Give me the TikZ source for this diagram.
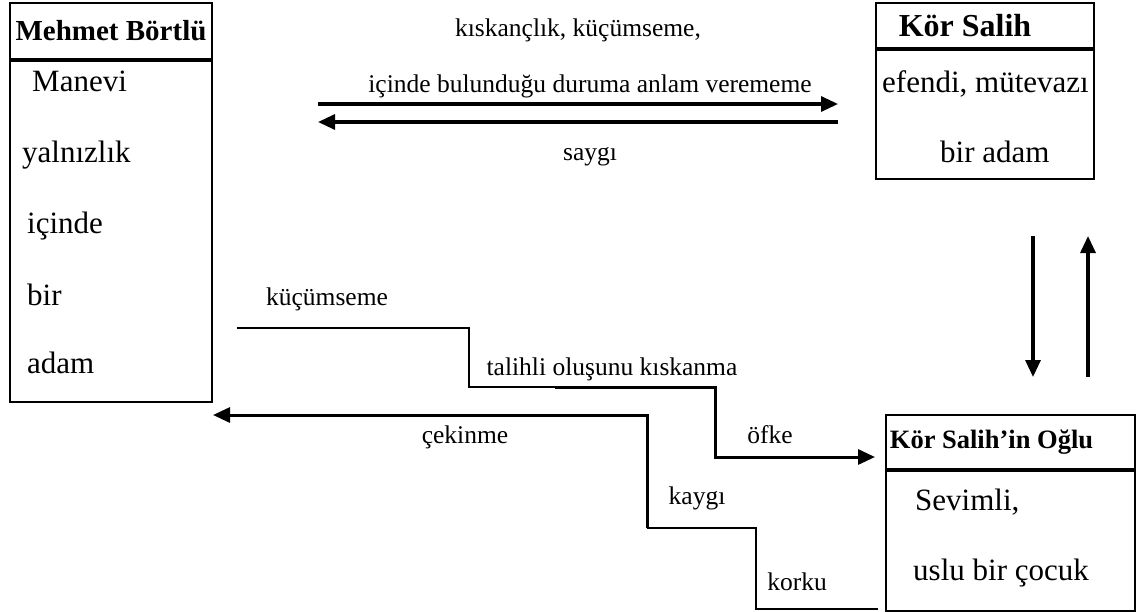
\documentclass[tikz,border=0pt]{standalone}
\usepackage{fontspec}
\setmainfont{Liberation Serif}
\usetikzlibrary{arrows.meta, positioning}
\newcommand{\bxfont}{\fontsize{31}{36}\selectfont}
\newcommand{\lblfont}{\fontsize{25.5}{30}\selectfont}
\tikzset{
    boxpart/.style={draw, line width=1.9pt, inner sep=0pt},
    boxhead/.style={boxpart, font=\bfseries\fontsize{29}{34}\selectfont},
    boxtext/.style={inner sep=0pt, anchor=base west, font=\bxfont},
    lbl/.style={inner sep=0pt, anchor=base, font=\lblfont},
    relarrow/.style={line width=3.2pt, -{Triangle[length=17pt, width=15pt]}},
    steparrow/.style={line width=3pt, -{Triangle[length=17pt, width=15pt]}},
    stepline/.style={line width=1.8pt},
}

\begin{document}
\begin{tikzpicture}[x=1pt, y=-1pt]
\useasboundingbox (0,0) rectangle (1137,611);

% --- Mehmet Bortlu box ---
\node[boxhead, minimum width=202pt, minimum height=56pt] (mb-h) at (111,31) {Mehmet Börtlü};
\node[boxpart, minimum width=202pt, minimum height=341pt, below=0pt of mb-h] (mb-b) {};
\node[boxtext] (mb-1) at (32,91) {Manevi};
\node[boxtext] (mb-2) at (22,162) {yalnızlık};
\node[boxtext] (mb-3) at (27,233) {içinde};
\node[boxtext] (mb-4) at (27,305) {bir};
\node[boxtext] (mb-5) at (27,373) {adam};

% --- Kor Salih box ---
\node[boxhead, font=\bfseries\fontsize{32}{36}\selectfont,
      minimum width=218pt, minimum height=45pt] (ks-h) at (985,25.5) {\hspace*{-40pt}Kör Salih};
\node[boxpart, minimum width=218pt, minimum height=129pt, below=0pt of ks-h] (ks-b) {};
\node[boxtext] (ks-1) at (882,92) {efendi, mütevazı};
\node[boxtext] (ks-2) at (940,162) {bir adam};

% --- Kor Salih'in Oglu box ---
\node[boxhead, font=\bfseries\fontsize{26.5}{30}\selectfont,
      minimum width=249pt, minimum height=54pt] (og-h) at (1010.5,442) {\hspace*{-38pt}Kör Salih’in Oğlu};
\node[boxpart, minimum width=249pt, minimum height=140pt, below=0pt of og-h] (og-b) {};
\node[boxtext] (og-1) at (915,510) {Sevimli,};
\node[boxtext] (og-2) at (913,580) {uslu bir çocuk};

% --- top relation ---
\coordinate (t-l1) at (318,104);
\coordinate (t-r1) at (838,104);
\coordinate (t-r2) at (838,122);
\coordinate (t-l2) at (318,122);
\draw[relarrow] (t-l1) -- (t-r1);
\draw[relarrow] (t-r2) -- (t-l2);
\node[lbl] (l-kis) at (578,36) {kıskançlık, küçümseme,};
\node[lbl] (l-anl) at (590,92) {içinde bulunduğu duruma anlam verememe};
\node[lbl] (l-say) at (590,160) {saygı};

% --- vertical relation ---
\coordinate (v-d1) at (1033,236);
\coordinate (v-d2) at (1033,377);
\coordinate (v-u1) at (1088,377);
\coordinate (v-u2) at (1088,236);
\draw[relarrow] (v-d1) -- (v-d2);
\draw[relarrow] (v-u1) -- (v-u2);

% --- stairs to the son ---
\coordinate (s-1) at (237,328);
\coordinate (s-2) at (469,328);
\coordinate (s-3) at (469,387);
\coordinate (s-4) at (555,387);
\coordinate (s-5) at (715,387);
\coordinate (s-6) at (715,457);
\coordinate (s-7) at (875,457);
\draw[stepline] (s-1) -- (s-2) -- (s-3) -- (s-4);
\draw[steparrow] (s-4) -- (s-5) -- (s-6) -- (s-7);
\node[lbl] (l-kuc) at (327,305) {küçümseme};
\node[lbl] (l-tal) at (612,375) {talihli oluşunu kıskanma};
\node[lbl] (l-ofk) at (770,443) {öfke};

% --- stairs back to Mehmet ---
\coordinate (b-1) at (878,609);
\coordinate (b-2) at (756,609);
\coordinate (b-3) at (756,528);
\coordinate (b-4) at (647,528);
\coordinate (b-5) at (647,415);
\coordinate (b-6) at (213,415);
\draw[stepline] (b-1) -- (b-2) -- (b-3) -- (b-4);
\draw[steparrow] (b-4) -- (b-5) -- (b-6);
\node[lbl] (l-cek) at (465,443) {çekinme};
\node[lbl] (l-kay) at (697,504) {kaygı};
\node[lbl] (l-kor) at (797,590) {korku};
\end{tikzpicture}
\end{document}
